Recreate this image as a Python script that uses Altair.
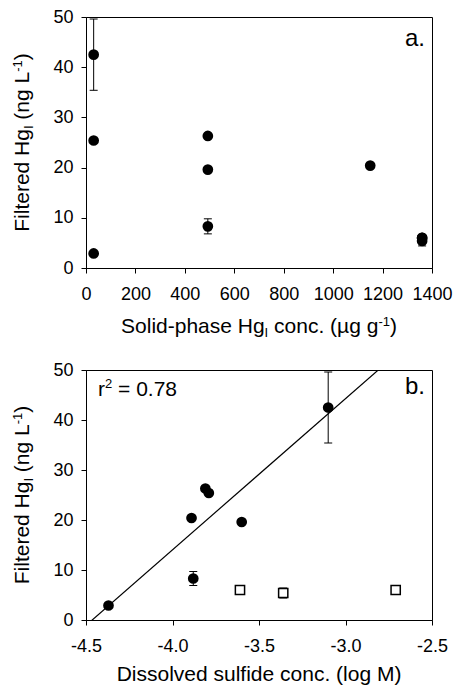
import altair as alt
import pandas as pd

FONT = "Liberation Sans"

# ---------------- data ----------------
# panel a: filtered HgI vs solid-phase HgI
a_solid_hg = [31, 31, 31, 493, 493, 493, 1150, 1360, 1360, 1360]
a_filtered_hg = [42.5, 25.4, 2.9, 26.3, 19.6, 8.3, 20.4, 6.0, 5.4, 6.0]
a_err = [7.1, 0, 0, 0, 0, 1.5, 0, 0, 1.0, 0]

# panel b: filtered HgI vs dissolved sulfide (filled = regression set)
b_sulfide = [-4.37, -3.89, -3.88, -3.81, -3.79, -3.60, -3.10]
b_filtered_hg = [2.9, 20.4, 8.3, 26.3, 25.4, 19.6, 42.5]
b_err = [0, 0, 1.4, 0, 0, 0, 7.1]
# open squares
bo_sulfide = [-3.61, -3.36, -2.71]
bo_filtered_hg = [6.0, 5.4, 6.0]
bo_err = [0, 1.0, 0]

a_x_ticks = [0, 200, 400, 600, 800, 1000, 1200, 1400]
b_x_ticks = [-4.5, -4.0, -3.5, -3.0, -2.5]
y_ticks = [0, 10, 20, 30, 40, 50]
r2_value = "0.78"

# ---------------- helpers ----------------
W = {' ': 278, '(': 333, ')': 333, '-': 333, '.': 278, '=': 584, 'µ': 576,
     'D': 722, 'F': 611, 'H': 722, 'I': 278, 'L': 556, 'M': 833, 'S': 667,
     'a': 556, 'b': 556, 'c': 500, 'd': 556, 'e': 556, 'f': 278, 'g': 556,
     'h': 556, 'i': 222, 'l': 222, 'n': 556, 'o': 556, 'p': 556, 'r': 333,
     's': 500, 't': 278, 'u': 556, 'v': 500}
for d in "0123456789":
    W[d] = 556

MAIN, SMALL = 21, 13
SHIFT = {"n": 0, "sub": 4, "sup": -7}


def tw(s, size):
    return sum(W.get(c, 556) for c in s) / 1000.0 * size


def seg(text, x, y, size, angle=0, align="left"):
    return alt.Chart(alt.Data(values=[{}])).mark_text(
        text=text, font=FONT, fontSize=size, angle=angle, align=align,
        baseline="alphabetic", color="black"
    ).encode(x=alt.value(x), y=alt.value(y))


def split_lead(t, size):
    stripped = t.lstrip(" ")
    return stripped, tw(t[: len(t) - len(stripped)], size)


def htitle(parts, cx, base_y):
    sizes = [MAIN if k == "n" else SMALL for _, k in parts]
    total = sum(tw(t, s) for (t, _), s in zip(parts, sizes))
    x = cx - total / 2
    out = []
    for (t, k), s in zip(parts, sizes):
        body, lead = split_lead(t, s)
        out.append(seg(body, x + lead, base_y + SHIFT[k], s))
        x += tw(t, s)
    return out


def vtitle(parts, base_x, cy):
    sizes = [MAIN if k == "n" else SMALL for _, k in parts]
    total = sum(tw(t, s) for (t, _), s in zip(parts, sizes))
    y = cy + total / 2
    out = []
    for (t, k), s in zip(parts, sizes):
        body, lead = split_lead(t, s)
        out.append(seg(body, base_x + SHIFT[k], y - lead, s, angle=270))
        y -= tw(t, s)
    return out


def err_df(xs, ys, es):
    rows = [dict(x=x, lo=y - e, hi=y + e) for x, y, e in zip(xs, ys, es) if e > 0]
    return pd.DataFrame(rows)


Y_PARTS = [("Filtered Hg", "n"), ("I", "sub"), (" (ng L", "n"), ("-1", "sup"), (")", "n")]

PW = 346
DOT = 115
ysc = alt.Scale(domain=[0, 50], nice=False)
yax = alt.Axis(values=y_ticks, title=None)

# ---------------- panel a ----------------
HA = 251
dfa = pd.DataFrame(dict(x=a_solid_hg, y=a_filtered_hg))
ea = err_df(a_solid_hg, a_filtered_hg, a_err)

xa = alt.X("x:Q", scale=alt.Scale(domain=[0, 1400], nice=False),
           axis=alt.Axis(values=a_x_ticks, title=None, format="d"))
ya = alt.Y("y:Q", scale=ysc, axis=yax)

a_rule = alt.Chart(ea).mark_rule(color="black", strokeWidth=1).encode(
    x=xa, y=alt.Y("lo:Q", scale=ysc, axis=yax), y2="hi:Q")
a_cap_lo = alt.Chart(ea).mark_tick(orient="horizontal", size=8, thickness=1, color="black", opacity=1).encode(
    x=xa, y=alt.Y("lo:Q", scale=ysc, axis=yax))
a_cap_hi = alt.Chart(ea).mark_tick(orient="horizontal", size=8, thickness=1, color="black", opacity=1).encode(
    x=xa, y=alt.Y("hi:Q", scale=ysc, axis=yax))
a_pts = alt.Chart(dfa).mark_point(shape="circle", filled=True, size=DOT, color="black", opacity=1).encode(x=xa, y=ya)

a_text = (htitle([("Solid-phase Hg", "n"), ("I", "sub"), (" conc. (µg g", "n"), ("-1", "sup"), (")", "n")], PW / 2, HA + 65)
          + vtitle(Y_PARTS, -57, HA / 2)
          + [seg("a.", 339, 29, 24, align="right")])

panel_a = alt.layer(a_rule, a_cap_lo, a_cap_hi, a_pts, *a_text).properties(width=PW, height=HA)

# ---------------- panel b ----------------
HB = 250
dfb = pd.DataFrame(dict(x=b_sulfide, y=b_filtered_hg))
eb = err_df(b_sulfide, b_filtered_hg, b_err)
dfo = pd.DataFrame(dict(x=bo_sulfide, y=bo_filtered_hg))
eo = err_df(bo_sulfide, bo_filtered_hg, bo_err)
eall = pd.concat([eb, eo], ignore_index=True)

xb = alt.X("x:Q", scale=alt.Scale(domain=[-4.5, -2.5], nice=False),
           axis=alt.Axis(values=b_x_ticks, title=None, format=".1f",
                         labelExpr="replace(datum.label, '\u2212', '-')"))
yb = alt.Y("y:Q", scale=ysc, axis=yax)

b_line = alt.Chart(dfb).transform_regression("x", "y", extent=[-4.5, -2.5]).mark_line(
    color="black", strokeWidth=1.2, clip=True).encode(x=xb, y=yb)
b_rule = alt.Chart(eall).mark_rule(color="black", strokeWidth=1).encode(
    x=xb, y=alt.Y("lo:Q", scale=ysc, axis=yax), y2="hi:Q")
b_cap_lo = alt.Chart(eall).mark_tick(orient="horizontal", size=8, thickness=1, color="black", opacity=1).encode(
    x=xb, y=alt.Y("lo:Q", scale=ysc, axis=yax))
b_cap_hi = alt.Chart(eall).mark_tick(orient="horizontal", size=8, thickness=1, color="black", opacity=1).encode(
    x=xb, y=alt.Y("hi:Q", scale=ysc, axis=yax))
b_pts = alt.Chart(dfb).mark_point(shape="circle", filled=True, size=DOT, color="black", opacity=1).encode(x=xb, y=yb)
b_sq = alt.Chart(dfo).mark_point(shape="square", filled=True, fill="white", stroke="black",
                                 strokeWidth=1.5, size=85, opacity=1).encode(x=xb, y=yb)

rx = 12
b_text = (htitle([("Dissolved sulfide conc. (log M)", "n")], PW / 2, HB + 61)
          + vtitle(Y_PARTS, -57, HB / 2)
          + [seg("b.", 339, 24, 24, align="right"),
             seg("r", rx, 26, MAIN), seg("2", rx + tw("r", MAIN), 26 - 8, SMALL),
             seg("= " + r2_value, rx + tw("r", MAIN) + tw("2", SMALL) + tw(" ", MAIN), 26, MAIN)])

panel_b = alt.layer(b_line, b_rule, b_cap_lo, b_cap_hi, b_pts, b_sq, *b_text).properties(width=PW, height=HB)

chart = alt.vconcat(panel_a, panel_b, spacing=19).properties(
    padding={"left": 11, "top": 7, "right": 0, "bottom": 0}
).configure(background="white").configure_view(
    stroke="black", strokeWidth=1
).configure_axis(
    labelFont=FONT, labelFontSize=18, labelColor="black", domainColor="black",
    tickColor="black", tickSize=5, tickWidth=1, domainWidth=1, grid=False,
    labelOverlap=False, labelFlush=False
).configure_axisX(labelPadding=12).configure_axisY(labelPadding=8)

chart.save("out.html", embed_options={"renderer": "svg", "actions": False})
